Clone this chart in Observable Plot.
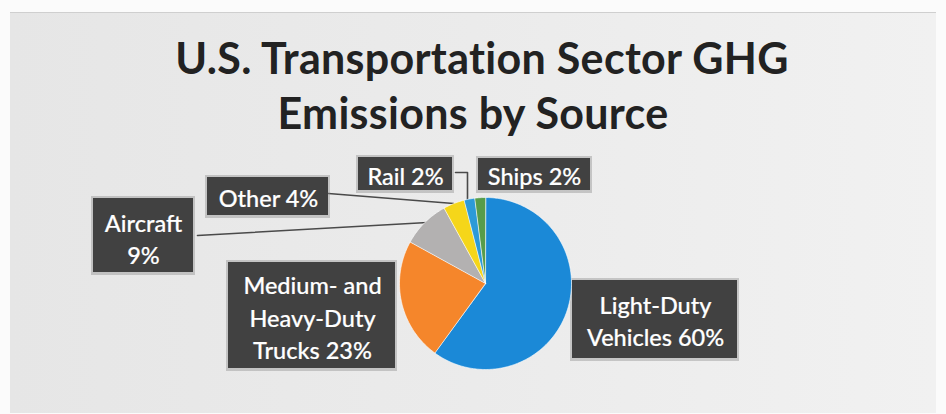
<!DOCTYPE html>
<html>
<head>
<meta charset="utf-8">
<script src="https://cdn.jsdelivr.net/npm/d3@7"></script>
<script src="https://cdn.jsdelivr.net/npm/@observablehq/plot@0.6"></script>
<style>
  html, body { margin: 0; padding: 0; background: #ffffff; }
  #frame { position: relative; width: 946px; height: 414px; overflow: hidden; background: #fbfbfb; }
  #panel { position: absolute; left: 10px; top: 12px; width: 926px; height: 400px;
           background: linear-gradient(90deg, #e6e6e6 0%, #ebebeb 50%, #f1f1f1 100%);
           border-top: 1px solid #cfcfcf; }
  #title { position: relative; width: 946px; height: 150px; box-sizing: border-box; padding-top: 30px;
           font-family: Lato, "Open Sans", sans-serif; font-weight: 700; font-size: 43px; letter-spacing: 0.3px;
           line-height: 55px; color: #222222; text-align: center; text-indent: 18px; }
  #chart { position: relative; }
  #chart svg { background: transparent; display: block; }
</style>
</head>
<body>
<div id="frame">
  <div id="panel"></div>
  <div id="title">U.S. Transportation Sector GHG<br>Emissions by Source</div>
  <div id="chart"></div>
</div>
<script>
// ---- data ----
const sources = ["Light-Duty Vehicles", "Medium- and Heavy-Duty Trucks", "Aircraft", "Other", "Rail", "Ships"];
const shares = [60, 23, 9, 4, 2, 2];
const sliceColors = ["#1b89d7", "#f5862b", "#b3b1b1", "#f5d61a", "#2c9ad8", "#579c4a"];
const labelText = ["Light-Duty\nVehicles 60%", "Medium- and\nHeavy-Duty\nTrucks 23%", "Aircraft\n9%", "Other 4%", "Rail 2%", "Ships 2%"];

// ---- layout (pixel offsets from pie centre) ----
const W = 946, H = 264, CX = 485, CY = 133, R = 86;
const boxLayout = [
  {x1: 87,   x2: 252,  y1: -3,   y2: 75,  tx: 170,  ty: 36},
  {x1: -257, x2: -90,  y1: -21,  y2: 85,  tx: -173, ty: 33},
  {x1: -392, x2: -292, y1: -85,  y2: -11, tx: -342, ty: -46},
  {x1: -278, x2: -157, y1: -106, y2: -68, tx: -217, ty: -87},
  {x1: -127, x2: -33,  y1: -126, y2: -93, tx: -80,  ty: -109},
  {x1: -7,   x2: 105,  y1: -125, y2: -93, tx: 49,   ty: -109}
];
const leaderLayout = [
  {source: "Aircraft", pts: [[-288, -48], [-58, -61]]},
  {source: "Other",    pts: [[-157, -90], [-32, -80]]},
  {source: "Rail",     pts: [[-30, -111], [-18, -111], [-18, -83]]}
];

// ---- derived tables ----
const arcs = d3.pie().sort(null).value(d => d)(shares);
const slicePts = arcs.flatMap((a, i) => {
  const n = Math.max(2, Math.ceil((a.endAngle - a.startAngle) * 180 / Math.PI));
  const pts = [{source: sources[i], x: 0, y: 0}];
  for (let k = 0; k <= n; k++) {
    const t = a.startAngle + (a.endAngle - a.startAngle) * k / n;
    pts.push({source: sources[i], x: R * Math.sin(t), y: -R * Math.cos(t)});
  }
  return pts;
});
const boxes = sources.map((s, i) => ({source: s, label: labelText[i], ...boxLayout[i]}));
const leaderPts = leaderLayout.flatMap(l => l.pts.map(([x, y]) => ({source: l.source, x, y})));

const chart = Plot.plot({
  width: W, height: H,
  marginTop: 0, marginRight: 0, marginBottom: 0, marginLeft: 0,
  x: {domain: [-CX, W - CX], range: [0, W], axis: null},
  y: {domain: [-CY, H - CY], range: [0, H], axis: null},
  color: {domain: sources, range: sliceColors},
  style: {background: "transparent", overflow: "visible"},
  marks: [
    Plot.line(leaderPts, {x: "x", y: "y", z: "source", stroke: "#4a4a4a", strokeWidth: 1.6}),
    Plot.rect(boxes, {x1: d => d.x1 - 2, x2: d => d.x2 + 2, y1: d => d.y1 - 2, y2: d => d.y2 + 3, fill: "#8a8a8a", fillOpacity: 0.4}),
    Plot.rect(boxes, {x1: "x1", x2: "x2", y1: "y1", y2: "y2", fill: "#414141"}),
    Plot.text(boxes, {x: "tx", y: "ty", text: "label", fill: "#ffffff", stroke: "#ffffff", strokeWidth: 0.2,
                      fontSize: 23.5, lineHeight: 1.38,
                      fontFamily: "Lato, 'Open Sans', sans-serif", fontWeight: 500}),
    Plot.line(slicePts, {x: "x", y: "y", z: "source", fill: "source", stroke: "#ffffff", strokeWidth: 0.6, curve: "linear-closed"})
  ]
});
document.getElementById("chart").appendChild(chart);
</script>
</body>
</html>
